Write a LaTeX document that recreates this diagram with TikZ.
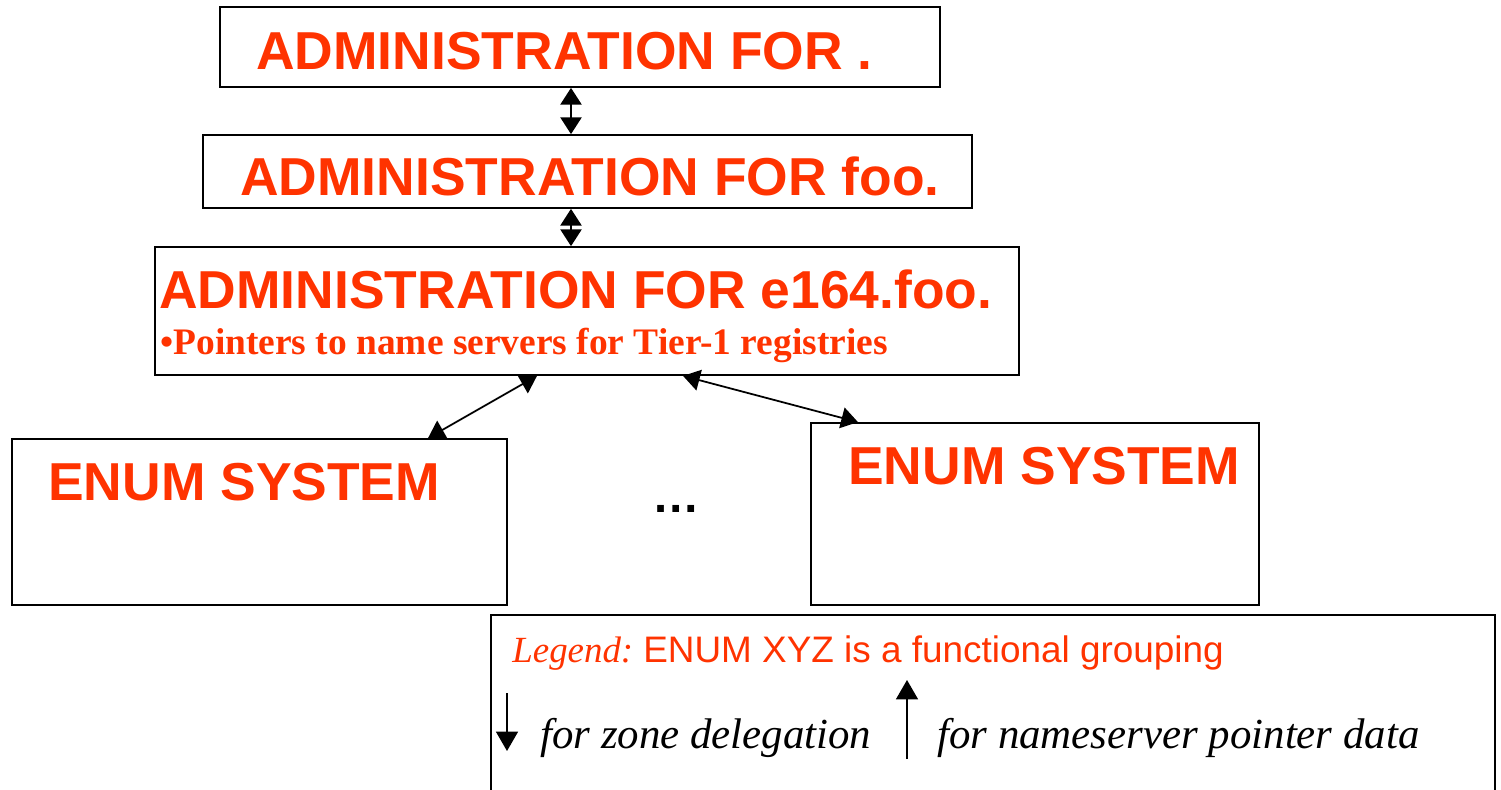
\documentclass[tikz,border=0pt]{standalone}
\usepackage{fontspec}
\setmainfont{Liberation Serif}
\setsansfont{Liberation Sans}
\usetikzlibrary{arrows.meta}
\definecolor{ored}{RGB}{255,51,0}
\tikzset{
  box/.style={draw=black, line width=1pt, fill=white, inner sep=0pt},
  bigtxt/.style={anchor=base west, inner sep=0pt, text=ored, font=\sffamily\bfseries\fontsize{30.4pt}{32pt}\selectfont},
  subtxt/.style={anchor=base west, inner sep=0pt, text=ored, font=\rmfamily\bfseries\fontsize{21.3pt}{23pt}\selectfont},
  legtxt/.style={anchor=base west, inner sep=0pt, font=\rmfamily\itshape\fontsize{24.4pt}{26pt}\selectfont},
  dbl/.style={line width=1pt, {Triangle[width=12pt,length=9.5pt]}-{Triangle[width=12pt,length=9.5pt]}},
  sgl/.style={line width=0.8pt, -{Triangle[width=12.5pt,length=11pt]}}
}
\begin{document}
\begin{tikzpicture}[x=0.02cm,y=-0.02cm]
\useasboundingbox (0,0) rectangle (1501,790);
\clip (0,0) rectangle (1501,790);
% boxes
\node[box, minimum width=14.4cm, minimum height=1.6cm] (b1) at (580,47) {};
\node[box, minimum width=15.38cm, minimum height=1.46cm] (b2) at (587.5,171.5) {};
\node[box, minimum width=17.28cm, minimum height=2.56cm] (b3) at (587,311) {};
\node[box, minimum width=9.9cm, minimum height=3.32cm] (b4) at (259.5,522) {};
\node[box, minimum width=8.96cm, minimum height=3.64cm] (b5) at (1035,514) {};
\node[box, minimum width=20.08cm, minimum height=3.7cm] (leg) at (993,707.5) {};
% texts
\node[bigtxt] (t1) at (256,70) {ADMINISTRATION FOR .};
\node[bigtxt] (t2) at (240,196) {ADMINISTRATION FOR foo.};
\node[bigtxt] (t3) at (159,309) {ADMINISTRATION FOR e164.foo.};
\node[subtxt] (t3s) at (160,355) {•Pointers to name servers for Tier-1 registries};
\node[bigtxt] (t4) at (48,500) {ENUM SYSTEM};
\node[bigtxt] (t5) at (848,484) {ENUM SYSTEM};
\node[anchor=base, inner sep=0pt, font=\sffamily\bfseries\fontsize{27pt}{29pt}\selectfont] (dots) at (676,512) {…};
\node[anchor=base west, inner sep=0pt, text=ored, font=\rmfamily\itshape\fontsize{21pt}{23pt}\selectfont] (l1) at (512,662) {Legend:};
\node[anchor=base west, inner sep=0pt, text=ored, font=\sffamily\fontsize{21pt}{23pt}\selectfont] (l2) at (643,662) {ENUM XYZ is a functional grouping};
\node[legtxt] (l3) at (540,748) {for zone delegation};
\node[legtxt] (l4) at (937,748) {for nameserver pointer data};
% connectors
\draw[dbl] (b1.south -| 571,0) -- (b2.north -| 571,0);
\draw[dbl] (b2.south -| 571,0) -- (b3.north -| 571,0);
\draw[dbl] (b3.south -| 537,0) -- (b4.north -| 428,0);
\draw[dbl] (b3.south -| 683,0) -- (b5.north -| 858,0);
% legend arrows
\coordinate (d1) at (507,693);
\coordinate (d2) at (507,751);
\coordinate (u1) at (907,759);
\coordinate (u2) at (907,680);
\draw[sgl] (d1) -- (d2);
\draw[sgl] (u1) -- (u2);
\end{tikzpicture}
\end{document}
